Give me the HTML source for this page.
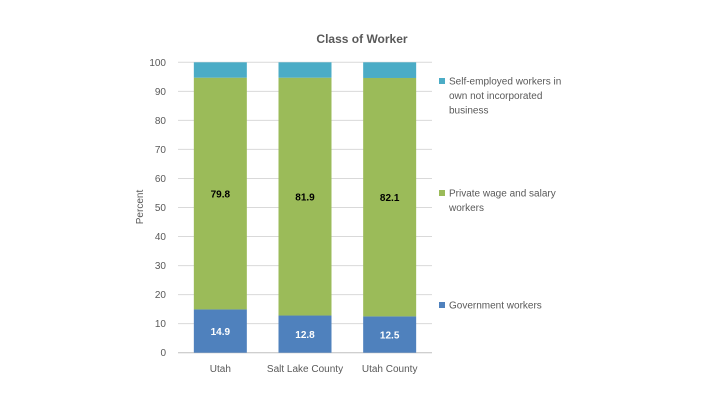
<!DOCTYPE html>
<html><head><meta charset="utf-8"><style>
body{margin:0;background:#fff;font-family:"Liberation Sans",sans-serif;}
svg text{font-family:"Liberation Sans",sans-serif;}
</style></head><body>
<svg width="720" height="405" viewBox="0 0 720 405">
<text x="362" y="43" text-anchor="middle" font-size="12" font-weight="bold" fill="#595959">Class of Worker</text>
<g id="grid"></g><g id="bars"></g><g id="legend"></g>
<text transform="translate(143,207) rotate(-90)" text-anchor="middle" font-size="10" fill="#595959">Percent</text>
</svg>
<script>
const categories=["Utah","Salt Lake County","Utah County"];
const government=[14.9,12.8,12.5];
const privateWage=[79.8,81.9,82.1];
const selfEmployed=[5.3,5.3,5.4];
const yTicks=[0,10,20,30,40,50,60,70,80,90,100];
const seriesNames=["Self-employed workers in|own not incorporated|business","Private wage and salary|workers","Government workers"];
const NS="http://www.w3.org/2000/svg";
const x0=178,x1=432,y0=352.7,y100=62.3;
const y=v=>y0-(y0-y100)*v/100;
const band=(x1-x0)/categories.length,bw=53;
const bx=i=>x0+band*i+(band-bw)/2;
function mk(t,a,p){const e=document.createElementNS(NS,t);for(const k in a)e.setAttribute(k,a[k]);p.appendChild(e);return e;}
const grid=document.getElementById('grid');
yTicks.forEach(t=>{
 const l=mk('line',{x1:x0,x2:x1,y1:y(t),y2:y(t),stroke:t===0?'#bfbfbf':'#d9d9d9','stroke-width':1},grid);
 
 
 const tx=mk('text',{x:166,y:y(t)+3.5,'text-anchor':'end','font-size':10,fill:'#595959'},grid);
 tx.textContent=t;
 
 
});
const bars=document.getElementById('bars');
categories.forEach((c,i)=>{
 const g=government[i],p=privateWage[i],s=selfEmployed[i];
 const segs=[[0,g,'#4f81bd','government'],[g,g+p,'#9bbb59','private'],[g+p,g+p+s,'#4bacc6','self-employed']];
 segs.forEach(sg=>{
  const r=mk('rect',{x:bx(i),y:y(sg[1]),width:bw,height:y(sg[0])-y(sg[1]),fill:sg[2]},bars);
  
  
 });
 const t1=mk('text',{x:bx(i)+bw/2,y:y(g/2)+4,'text-anchor':'middle','font-size':10,'font-weight':'bold',fill:'#fff'},bars);
 t1.textContent=g.toFixed(1);
 
 
 const t2=mk('text',{x:bx(i)+bw/2,y:y(g+p/2)+4,'text-anchor':'middle','font-size':10,'font-weight':'bold',fill:'#000'},bars);
 t2.textContent=p.toFixed(1);
 
 
 const cl=mk('text',{x:bx(i)+bw/2,y:372,'text-anchor':'middle','font-size':10,fill:'#595959'},bars);
 cl.textContent=c;
 
 
});
const leg=document.getElementById('legend');
const legY=[81,193,305],legC=['#4bacc6','#9bbb59','#4f81bd'];
seriesNames.forEach((n,k)=>{
 const sq=mk('rect',{x:439,y:legY[k]-3,width:6,height:6,fill:legC[k]},leg);
 
 
 n.split('|').forEach((ln,j)=>{
  const t=mk('text',{x:449,y:legY[k]+3.5+j*14.5,'font-size':10,fill:'#595959'},leg);
  t.textContent=ln;
  
  
 });
});
</script>
</body></html>
